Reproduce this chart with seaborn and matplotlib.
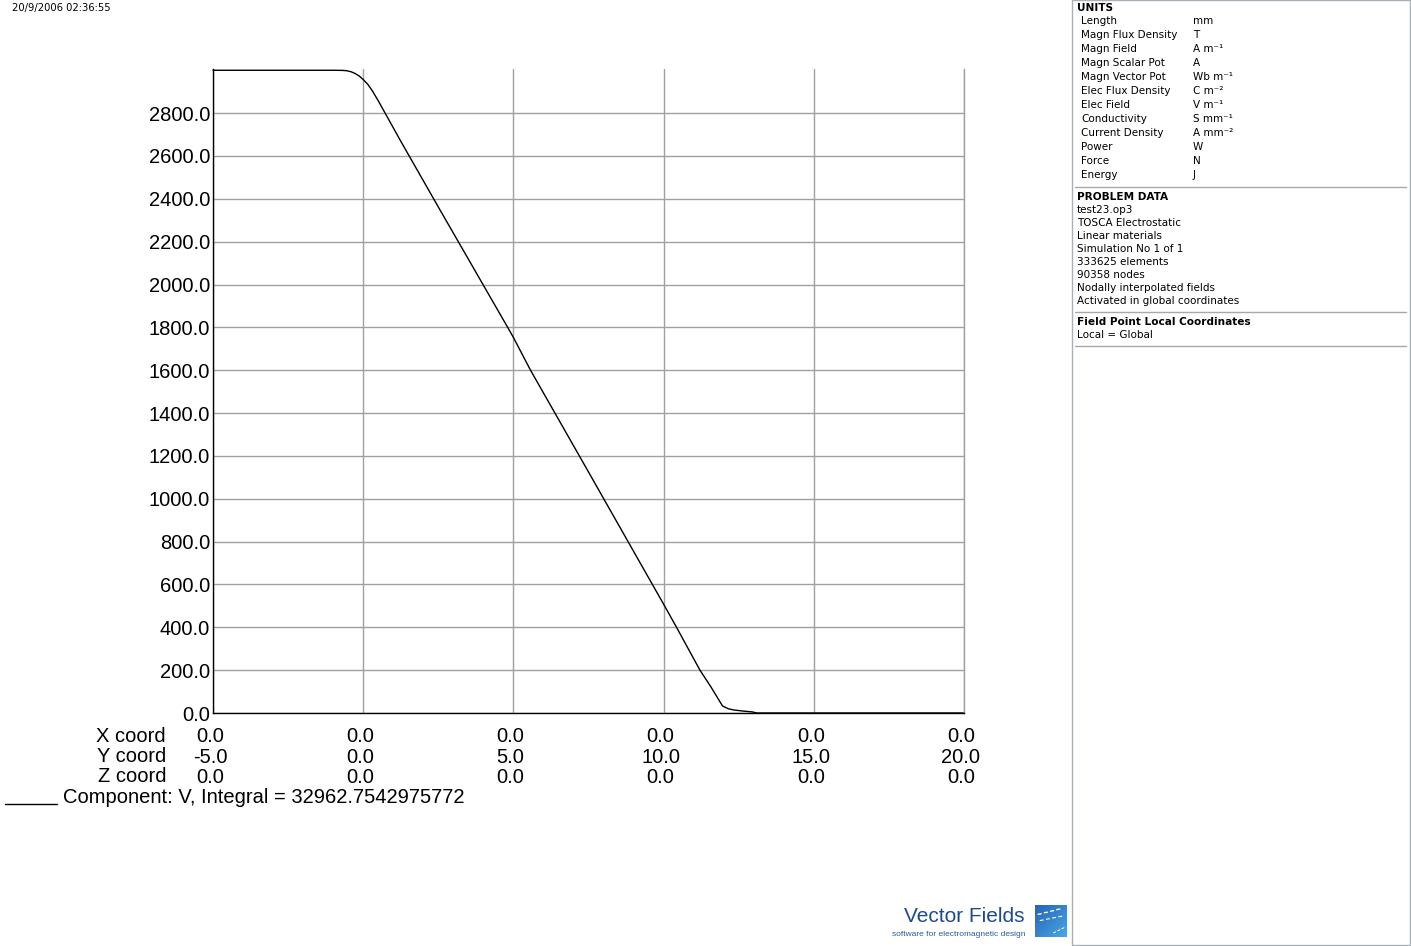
import numpy as np
import pandas as pd
import matplotlib
matplotlib.use('Agg')
import matplotlib.pyplot as plt
import matplotlib.transforms as mtransforms
import seaborn as sns
from matplotlib.patches import Rectangle
from matplotlib.lines import Line2D

# ---- data ----
y_coord = [-5.0, -1.2, -0.9, -0.7, -0.55, -0.4, -0.27, -0.13, 0.0, 0.15, 0.3, 0.5,
           0.73, 1.23, 2.5, 4.81, 5.0, 5.57, 7.5, 10.0, 10.43, 11.21, 11.57, 11.96,
           12.15, 12.34, 12.65, 12.96, 13.1, 20.0]
potential = [3000, 3000, 3000, 2999.5, 2998, 2993, 2985, 2973, 2957, 2935, 2905, 2858,
             2800, 2674, 2362, 1800, 1753, 1600, 1125, 508, 400, 200, 123, 33,
             20, 14, 9, 5, 0, 0]

tick_x = [0.0, 0.0, 0.0, 0.0, 0.0, 0.0]
tick_y = [-5.0, 0.0, 5.0, 10.0, 15.0, 20.0]
tick_z = [0.0, 0.0, 0.0, 0.0, 0.0, 0.0]
v_ticks = list(range(0, 3000, 200))

units = [("Length", "mm"), ("Magn Flux Density", "T"), ("Magn Field", "A m\u207b\u00b9"),
         ("Magn Scalar Pot", "A"), ("Magn Vector Pot", "Wb m\u207b\u00b9"),
         ("Elec Flux Density", "C m\u207b\u00b2"), ("Elec Field", "V m\u207b\u00b9"),
         ("Conductivity", "S mm\u207b\u00b9"), ("Current Density", "A mm\u207b\u00b2"),
         ("Power", "W"), ("Force", "N"), ("Energy", "J")]
problem = ["test23.op3", "TOSCA Electrostatic", "Linear materials", "Simulation No 1 of 1",
           "333625 elements", "90358 nodes", "Nodally interpolated fields",
           "Activated in global coordinates"]

sns.set_style('white')
plt.rcParams['font.family'] = ['Liberation Sans', 'DejaVu Sans']
plt.rcParams['text.color'] = 'black'
plt.rcParams['xtick.color'] = 'black'
plt.rcParams['ytick.color'] = 'black'

W, H = 1411, 946
fig = plt.figure(figsize=(W / 100, H / 100), dpi=100)


def fx(x):
    return x / W


def fy(y):
    return 1 - y / H


ax = fig.add_axes([fx(213), fy(713), fx(964) - fx(213), fy(69) - fy(713)])
df = pd.DataFrame({'y': y_coord, 'V': potential})
sns.lineplot(data=df, x='y', y='V', ax=ax, color='black', linewidth=1.0, clip_on=False)

ax.set_xlim(-5, 20)
ax.set_ylim(0, 3006)
ax.set_yticks(v_ticks)
ax.set_yticklabels([f"{v:.1f}" for v in v_ticks], fontsize=14.5)
ax.set_xticks(tick_y)
ax.set_xticklabels([f"{a:.1f}\n{b:.1f}\n{c:.1f}" for a, b, c in zip(tick_x, tick_y, tick_z)],
                   fontsize=14.5, linespacing=1.12)
ax.tick_params(axis='both', length=0, labelcolor='black')
ax.tick_params(axis='x', pad=10)
ax.tick_params(axis='y', pad=2)
shift = mtransforms.ScaledTranslation(-3 / 100, 0, fig.dpi_scale_trans)
for lab in ax.get_xticklabels():
    lab.set_transform(lab.get_transform() + shift)
ax.grid(True, color='#a0a0a0', linewidth=1)
ax.set_xlabel('')
ax.set_ylabel('')
for s in ['left', 'bottom']:
    ax.spines[s].set_color('black')
    ax.spines[s].set_linewidth(1)
ax.spines['top'].set_visible(False)
ax.spines['right'].set_color('#a0a0a0')
ax.spines['right'].set_linewidth(1)

# coordinate row labels
for lab, yy in zip(["X coord", "Y coord", "Z coord"], [736, 756, 777]):
    fig.text(fx(166), fy(yy), lab, ha='right', va='center', fontsize=14.5)

# legend line
fig.add_artist(Line2D([fx(5), fx(57)], [fy(804), fy(804)], color='black', lw=1))
fig.text(fx(63), fy(797), "Component: V, Integral = 32962.7542975772",
         ha='left', va='center', fontsize=14.5)

panel_font = ['DejaVu Sans']

# timestamp
fig.text(fx(12), fy(8), "20/9/2006 02:36:55", ha='left', va='center', fontsize=7.2,
         family=panel_font)

# right info panel
fig.add_artist(Rectangle((fx(1072), fy(945)), fx(1410) - fx(1072), fy(0) - fy(945),
                         transform=fig.transFigure, fill=False, edgecolor='#a8b0b8', lw=1))
for yy in [187, 312, 346]:
    fig.add_artist(Line2D([fx(1075), fx(1406)], [fy(yy), fy(yy)], color='#a8a8a8', lw=1))

fig.text(fx(1077), fy(8), "UNITS", ha='left', va='center', fontsize=7.6, fontweight='bold',
         family=panel_font)
for i, (name, u) in enumerate(units):
    yy = 21 + 14 * i
    fig.text(fx(1081), fy(yy), name, ha='left', va='center', fontsize=7.5, family=panel_font)
    fig.text(fx(1193), fy(yy), u, ha='left', va='center', fontsize=7.5, family=panel_font)

fig.text(fx(1077), fy(197), "PROBLEM DATA", ha='left', va='center', fontsize=7.6,
         fontweight='bold', family=panel_font)
for i, line in enumerate(problem):
    fig.text(fx(1077), fy(210 + 13 * i), line, ha='left', va='center', fontsize=7.5,
             family=panel_font)
fig.text(fx(1077), fy(322), "Field Point Local Coordinates", ha='left', va='center',
         fontsize=7.6, fontweight='bold', family=panel_font)
fig.text(fx(1077), fy(335), "Local = Global", ha='left', va='center', fontsize=7.5,
         family=panel_font)

# logo
fig.text(fx(1025), fy(916), "Vector Fields", ha='right', va='center', fontsize=15, color='#1d4a8e')
fig.text(fx(1025), fy(934), "software for electromagnetic design", ha='right', va='center',
         fontsize=6, color='#2a5aa0')
iax = fig.add_axes([fx(1035), fy(937), fx(1067) - fx(1035), fy(905) - fy(937)])
g = np.linspace(0, 1, 32)
grad = (g[None, :] + g[:, None]) / 2
iax.imshow(grad, cmap=matplotlib.colors.LinearSegmentedColormap.from_list(
    'logo', ['#2462b4', '#4aa8e6']), aspect='auto')
for k in range(4):
    iax.plot([3 + 6 * k, 6 + 6 * k], [9 - 1.5 * k, 8.5 - 1.5 * k], color='white', lw=1.0)
    iax.plot([5 + 6 * k, 8 + 6 * k], [15 - 1.2 * k, 14.5 - 1.2 * k], color='white', lw=0.8)
for k in range(3):
    iax.plot([18 + 4 * k, 20 + 4 * k], [27 - 2 * k, 26 - 2 * k], color='white', lw=0.7)
iax.set_xlim(0, 31)
iax.set_ylim(31, 0)
iax.axis('off')

fig.savefig('out.png', dpi=100)
